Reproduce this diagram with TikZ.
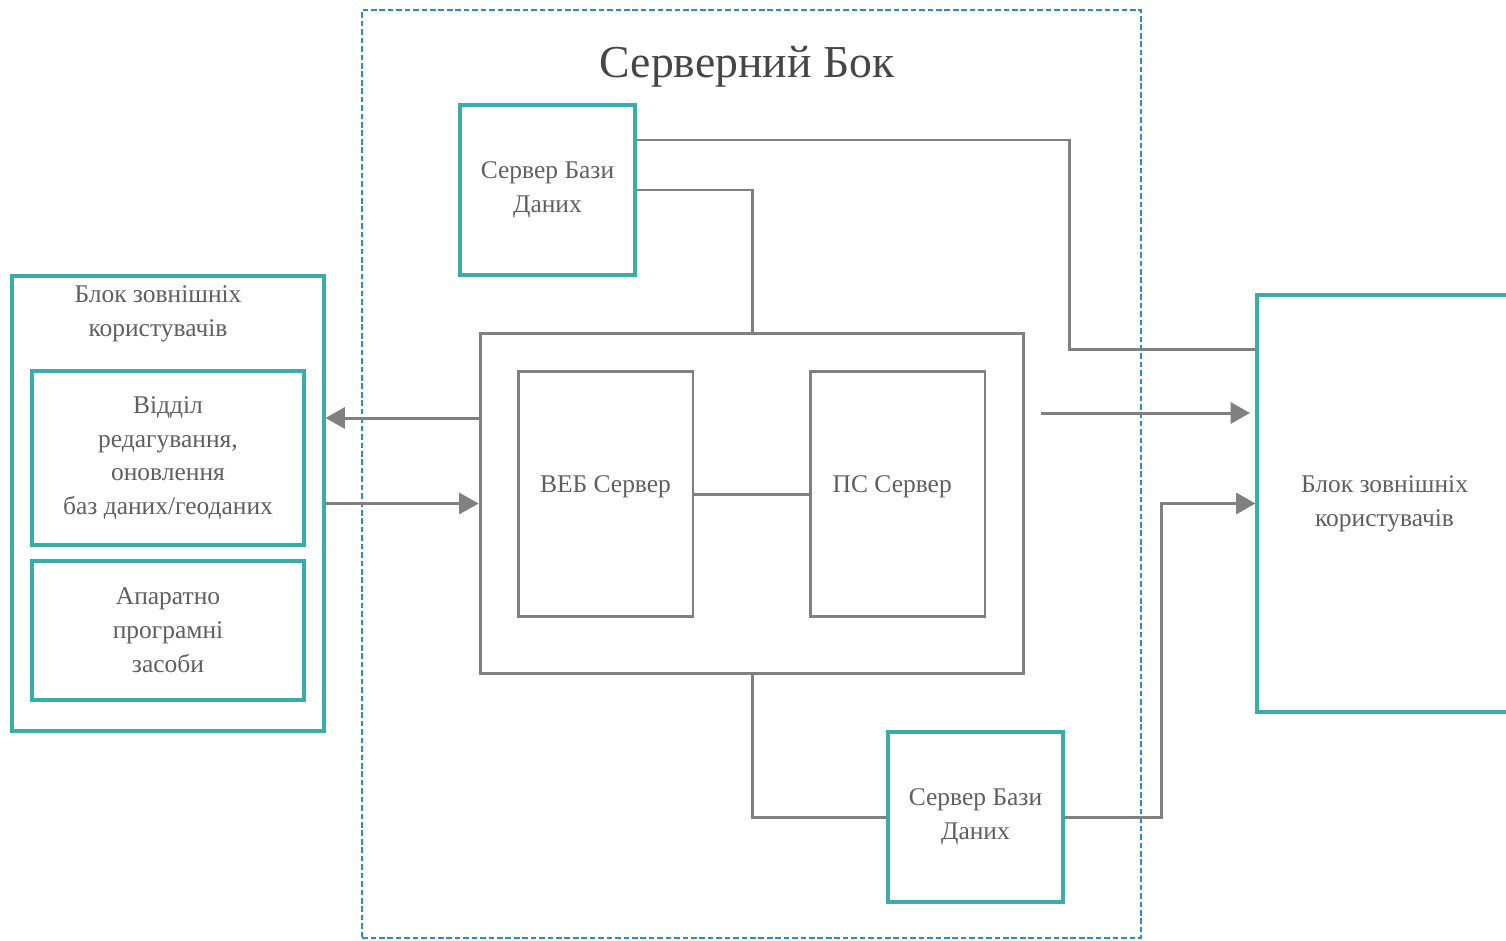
\documentclass[tikz,border=0pt]{standalone}
\usepackage{fontspec}
\setmainfont{Liberation Serif}
\usepackage{tikz}
\usetikzlibrary{arrows.meta, positioning}

\definecolor{tealline}{RGB}{58,172,170}
\definecolor{wire}{RGB}{128,128,128}
\definecolor{ink}{RGB}{95,95,95}
\definecolor{zoneblue}{RGB}{45,140,200}

\begin{document}
\begin{tikzpicture}[
  x=0.02cm, y=-0.02cm,
  every node/.style={font=\fontsize{14.5}{19.3}\selectfont, text=ink, align=center, inner sep=0pt},
  tealbox/.style={draw=tealline, line width=1.8pt, fill=white},
  greybox/.style={draw=wire, line width=1.7pt, fill=white},
  link/.style={draw=wire, line width=1.7pt},
  flow/.style={link, -{Triangle[length=11pt, width=12pt]}}
]
\useasboundingbox (0,0) rectangle (1506,940);

% server side zone
\node[draw=zoneblue, line width=1.3pt, dash pattern=on 3.2pt off 1.6pt,
  minimum width=15.58cm, minimum height=18.56cm] (srvzone) at (751.5,474) {};
\node[font=\fontsize{26}{30}\selectfont, text={rgb,255:red,70;green,70;blue,70}] (title) at (747,67) {Серверний Бок};

\node[tealbox, minimum width=3.5cm, minimum height=3.4cm] (dbtop) at (547.5,190) {Сервер Бази\\Даних};
\node[greybox, minimum width=10.88cm, minimum height=6.82cm] (core) at (752,503.5) {};
\node[greybox, minimum width=3.5cm, minimum height=4.92cm,
  label={[yshift=4pt]center:ВЕБ Сервер}] (web) at (605.5,494) {};
\node[greybox, minimum width=3.5cm, minimum height=4.92cm,
  label={[yshift=4pt, xshift=-3pt]center:ПС Сервер}] (ps) at (897.5,494) {};
\node[tealbox, minimum width=3.5cm, minimum height=3.4cm] (dbbot) at (975.5,817) {Сервер Бази\\Даних};

% external users
\node[tealbox, minimum width=6.24cm, minimum height=9.1cm,
  label={[anchor=center, yshift=-0.78cm, xshift=-0.2cm, align=center]north:Блок зовнішніх\\користувачів}] (extl) at (168,503.5) {};
\node[tealbox, minimum width=5.44cm, minimum height=3.48cm] (edit) at (168,458) {Відділ\\редагування,\\оновлення\\баз даних/геоданих};
\node[tealbox, minimum width=5.44cm, minimum height=2.78cm] (hw) at (168,630.5) {Апаратно\\програмні\\засоби};
\node[tealbox, minimum width=5.1cm, minimum height=8.34cm] (extr) at (1384.5,503.5) {Блок зовнішніх\\користувачів};

% connectors
\draw[link] (web) -- (ps);
\draw[flow] (core.west |- 0,418) -- (extl.east |- 0,418);
\draw[flow] (extl.east |- core.west) -- (core.west);
\draw[link] (dbtop.east |- 0,140) -| (1069,349) -- (extr.west |- 0,349);
\draw[link] (dbtop.east) -| (core.north);
\coordinate (outstart) at (1041,413);
\draw[flow] (outstart) -- (1250,413);
\draw[link] (core.south) |- (dbbot.west);
\draw[flow] (dbbot.east) -- ++(97,0) |- (extr.west);
\end{tikzpicture}
\end{document}
